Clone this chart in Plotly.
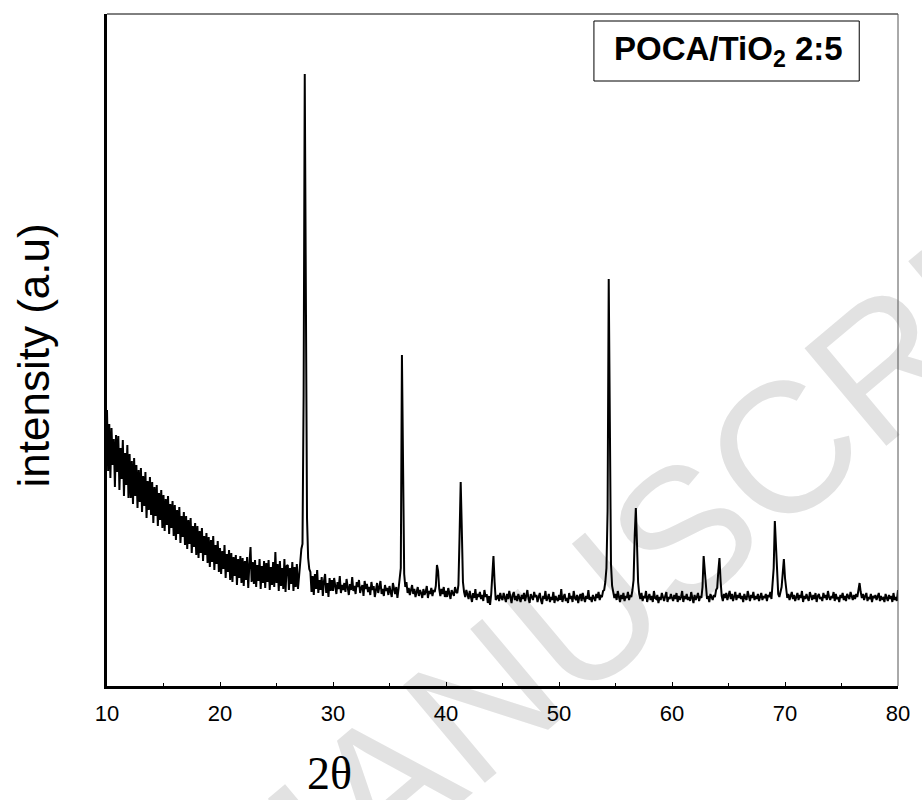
import numpy as np
import plotly.graph_objects as go

# ---- data (intensity in arbitrary units, sampled every 0.1 deg 2-theta from 10.0 to 80.0) ----
start_2theta = 10.0
step_2theta = 0.1
intensity_rows = [
    [276, 215, 262, 208, 258, 221, 247, 199, 251, 214],  # 10
    [250, 196, 238, 207, 246, 190, 233, 201, 241, 188],  # 11
    [232, 188, 225, 182, 228, 190, 221, 178, 216, 184],  # 12
    [218, 174, 210, 180, 214, 168, 205, 176, 209, 171],  # 13
    [204, 163, 199, 170, 201, 160, 193, 166, 196, 158],  # 14
    [191, 155, 187, 161, 190, 152, 182, 158, 185, 150],  # 15
    [181, 146, 176, 152, 179, 143, 170, 149, 174, 141],  # 16
    [170, 137, 166, 142, 168, 133, 160, 139, 163, 131],  # 17
    [160, 128, 155, 133, 158, 125, 150, 131, 153, 123],  # 18
    [149, 119, 146, 124, 150, 116, 141, 122, 145, 114],  # 19
    [138, 112, 135, 117, 141, 108, 132, 114, 136, 106],  # 20
    [133, 104, 129, 110, 131, 101, 127, 108, 130, 103],  # 21
    [128, 100, 125, 106, 129, 98, 122, 139, 104, 124],   # 22
    [102, 126, 99, 121, 105, 127, 97, 120, 103, 125],    # 23
    [98, 123, 104, 126, 96, 119, 101, 124, 99, 134],     # 24
    [103, 122, 95, 125, 100, 118, 97, 127, 94, 120],     # 25
    [121, 96, 118, 102, 124, 95, 119, 99, 122, 97],      # 26
    [110, 124, 137, 142, 290, 612, 330, 168, 128, 117],  # 27
    [114, 94, 110, 91, 112, 97, 116, 93, 106, 96],       # 28
    [109, 90, 105, 112, 93, 103, 89, 108, 95, 106],      # 29
    [95, 108, 100, 92, 104, 97, 110, 93, 101, 96],       # 30
    [103, 94, 107, 98, 91, 102, 96, 109, 95, 100],       # 31
    [92, 104, 99, 106, 93, 98, 101, 90, 105, 97],        # 32
    [102, 94, 99, 91, 104, 96, 100, 89, 97, 103],        # 33
    [93, 99, 105, 92, 97, 90, 101, 95, 98, 91],          # 34
    [100, 94, 89, 103, 96, 92, 99, 88, 97, 105],         # 35
    [118, 331, 241, 112, 99, 104, 93, 98, 91, 96],       # 36
    [101, 92, 97, 89, 95, 99, 90, 96, 93, 88],           # 37
    [97, 91, 94, 100, 88, 95, 92, 98, 90, 96],           # 38
    [94, 100, 121, 115, 97, 90, 97, 92, 99, 89],         # 39
    [95, 89, 98, 91, 87, 96, 93, 90, 99, 94],            # 40
    [93, 101, 150, 204, 156, 104, 94, 89, 96, 91],       # 41
    [87, 95, 90, 84, 93, 88, 97, 86, 92, 89],            # 42
    [94, 87, 91, 85, 96, 89, 92, 83, 90, 81],            # 43
    [92, 110, 130, 104, 86, 88, 91, 85, 93, 88],         # 44
    [86, 93, 89, 84, 92, 87, 95, 88, 83, 91],            # 45
    [94, 86, 90, 85, 92, 88, 84, 91, 87, 93],            # 46
    [85, 90, 96, 87, 83, 92, 88, 86, 94, 89],            # 47
    [91, 84, 89, 93, 86, 82, 90, 87, 95, 85],            # 48
    [88, 92, 84, 89, 86, 94, 83, 90, 87, 85],            # 49
    [91, 86, 97, 84, 89, 92, 85, 88, 83, 93],            # 50
    [87, 90, 84, 95, 88, 86, 91, 83, 89, 92],            # 51
    [85, 93, 88, 84, 90, 87, 96, 86, 89, 84],            # 52
    [91, 87, 85, 92, 88, 94, 86, 90, 89, 95],            # 53
    [96, 104, 118, 175, 407, 264, 122, 100, 94, 88],     # 54
    [92, 86, 95, 89, 84, 91, 87, 93, 85, 90],            # 55
    [88, 94, 86, 91, 89, 96, 106, 150, 178, 143],        # 56
    [104, 92, 87, 93, 85, 90, 88, 95, 84, 89],           # 57
    [92, 86, 90, 84, 95, 88, 87, 91, 83, 89],            # 58
    [86, 93, 88, 85, 90, 94, 84, 89, 87, 92],            # 59
    [88, 85, 91, 87, 93, 84, 90, 86, 89, 95],            # 60
    [84, 90, 87, 92, 86, 89, 85, 94, 88, 83],            # 61
    [91, 86, 89, 93, 85, 90, 88, 99, 130, 112],          # 62
    [94, 87, 90, 84, 92, 88, 86, 91, 89, 96],            # 63
    [98, 115, 128, 105, 90, 85, 92, 88, 93, 86],         # 64
    [90, 95, 87, 92, 85, 89, 94, 86, 91, 88],            # 65
    [93, 87, 90, 84, 92, 88, 86, 95, 89, 85],            # 66
    [91, 88, 94, 86, 90, 87, 92, 85, 89, 93],            # 67
    [86, 90, 88, 92, 85, 91, 89, 94, 87, 100],           # 68
    [118, 165, 139, 104, 92, 89, 94, 99, 113, 127],      # 69
    [108, 94, 88, 92, 86, 90, 94, 87, 91, 85],           # 70
    [89, 93, 86, 91, 88, 95, 84, 90, 87, 92],            # 71
    [88, 85, 94, 89, 86, 91, 87, 93, 84, 90],            # 72
    [92, 87, 89, 85, 93, 88, 91, 86, 95, 89],            # 73
    [86, 90, 88, 94, 85, 92, 87, 89, 84, 91],            # 74
    [88, 93, 86, 90, 85, 92, 89, 87, 94, 88],            # 75
    [86, 91, 87, 92, 89, 96, 103, 94, 88, 92],           # 76
    [86, 90, 93, 85, 89, 87, 92, 84, 90, 88],            # 77
    [91, 86, 89, 93, 85, 90, 87, 88, 84, 92],            # 78
    [88, 85, 91, 87, 90, 84, 93, 86, 89, 85],            # 79
]
last_value = [96]  # 80.0

x_tick_values = [10, 20, 30, 40, 50, 60, 70, 80]
x_tick_labels = ["10", "20", "30", "40", "50", "60", "70", "80"]
legend_text = "POCA/TiO<sub>2</sub> 2:5"
x_title = "2θ"
y_title = "intensity (a.u)"
watermark_text = "MANUSCRIPT"

for r in intensity_rows:
    assert len(r) == 10
intensity = [v for r in intensity_rows for v in r] + last_value
two_theta = np.round(start_2theta + step_2theta * np.arange(len(intensity)), 2)

# ---- figure ----
W, H = 922, 800
L, R, T, B = 107, 19, 14, 114
pw, ph = W - L - R, H - T - B

def px_to_paper(px, py):
    return (px - L) / pw, (H - B - py) / ph

fig = go.Figure()
fig.add_trace(go.Scatter(x=two_theta, y=intensity, mode="lines",
                         line=dict(color="black", width=2), hoverinfo="skip",
                         showlegend=False))

tick_font = dict(family="Liberation Sans, Arial", size=22, color="black")

fig.update_layout(
    width=W, height=H,
    margin=dict(l=L, r=R, t=T, b=B, pad=0),
    plot_bgcolor="white", paper_bgcolor="white",
    showlegend=False,
    xaxis=dict(range=[10, 80], tickvals=x_tick_values, ticktext=x_tick_labels,
               showgrid=False, zeroline=False, showline=True, linecolor="black", linewidth=2.5,
               ticks="inside", ticklen=4, tickwidth=1, tickcolor="black",
               minor=dict(dtick=5, ticks="inside", ticklen=3, tickcolor="black"),
               tickfont=tick_font, ticklabelstandoff=6),
    yaxis=dict(range=[0, 672], showticklabels=False, ticks="", showgrid=False, zeroline=False,
               showline=True, linecolor="black", linewidth=2.5),
)

# thin top and right frame lines
fig.add_shape(type="line", xref="paper", yref="paper", x0=0, x1=1, y0=1, y1=1,
              line=dict(color="black", width=1))
fig.add_shape(type="line", xref="paper", yref="paper", x0=1, x1=1, y0=0, y1=1,
              line=dict(color="#555555", width=1))

# watermark (below the data)
wx, wy = px_to_paper(680, 515)
fig.add_shape(type="rect", xref="paper", yref="paper", x0=wx - 0.01, x1=wx + 0.01,
              y0=wy - 0.01, y1=wy + 0.01, line=dict(width=0), fillcolor="rgba(0,0,0,0)",
              layer="below",
              label=dict(text=watermark_text, textangle=-40, textposition="middle center",
                         font=dict(family="Liberation Sans, Arial", size=185, color="#e2e2e2")))

# legend box
bx0, by0 = px_to_paper(597, 81)
bx1, by1 = px_to_paper(864, 21)
fig.add_shape(type="rect", xref="paper", yref="paper", x0=bx0, x1=bx1, y0=by0, y1=by1,
              line=dict(color="black", width=1), fillcolor="white")
cx, cy = px_to_paper(732, 51)
fig.add_annotation(xref="paper", yref="paper", x=cx, y=cy, text="<b>" + legend_text + "</b>",
                   showarrow=False, xanchor="center", yanchor="middle",
                   font=dict(family="Liberation Sans, Arial", size=33, color="black"))

# axis titles
tx, ty = px_to_paper(331, 773)
fig.add_annotation(xref="paper", yref="paper", x=tx, y=ty, text=x_title, showarrow=False,
                   xanchor="center", yanchor="middle",
                   font=dict(family="Liberation Serif, Times New Roman", size=46, color="black"))
yx, yy = px_to_paper(33, 355)
fig.add_annotation(xref="paper", yref="paper", x=yx, y=yy, text=y_title, showarrow=False,
                   textangle=-90, xanchor="center", yanchor="middle",
                   font=dict(family="Liberation Sans, Arial", size=44, color="black"))

fig.write_html("out.html")
